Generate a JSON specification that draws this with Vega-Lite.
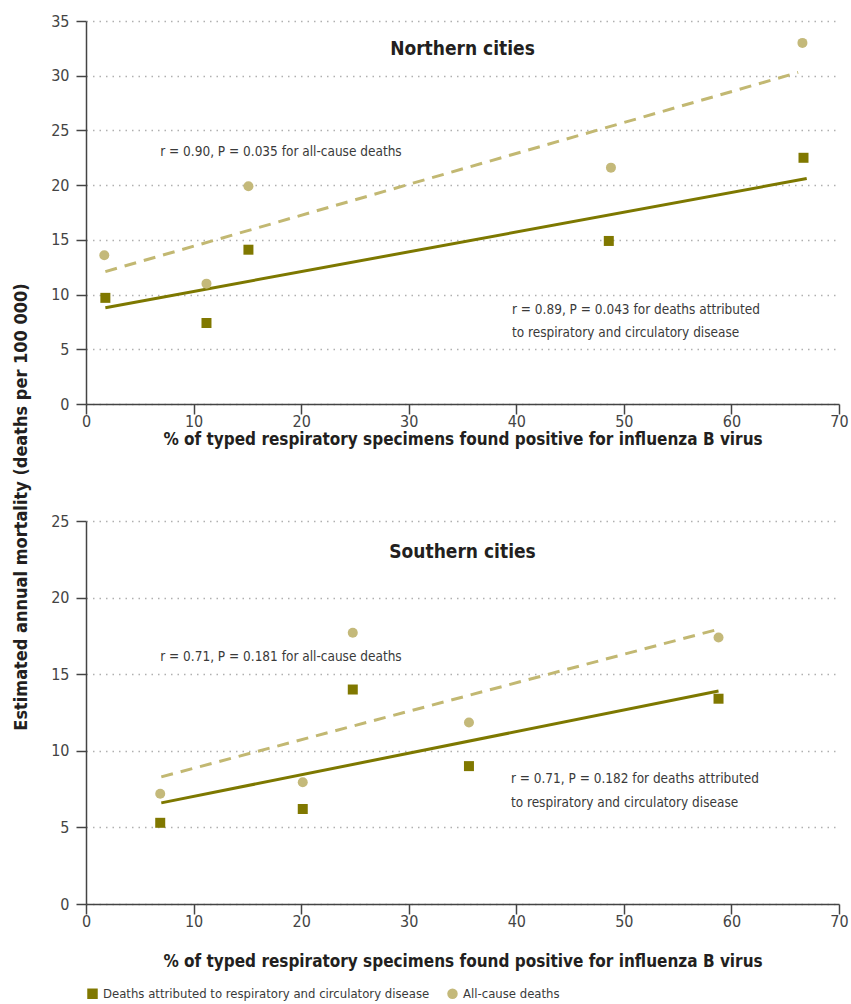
{
  "$schema": "https://vega.github.io/schema/vega-lite/v6.json",
  "padding": {"left": 12, "top": 13, "right": 10, "bottom": 5},
  "background": "white",
  "title": {
    "text": "Estimated annual mortality (deaths per 100 000)",
    "orient": "left",
    "anchor": "middle",
    "fontSize": 18,
    "fontWeight": "bold",
    "font": "DejaVu Sans Condensed",
    "color": "#231f20",
    "offset": 20
  },
  "datasets": {
    "points": [
      {"panel": "North", "series": "Deaths attributed to respiratory and circulatory disease", "x": 1.8, "y": 9.7},
      {"panel": "North", "series": "Deaths attributed to respiratory and circulatory disease", "x": 11.2, "y": 7.4},
      {"panel": "North", "series": "Deaths attributed to respiratory and circulatory disease", "x": 15.1, "y": 14.1},
      {"panel": "North", "series": "Deaths attributed to respiratory and circulatory disease", "x": 48.6, "y": 14.9},
      {"panel": "North", "series": "Deaths attributed to respiratory and circulatory disease", "x": 66.7, "y": 22.5},
      {"panel": "North", "series": "All-cause deaths", "x": 1.7, "y": 13.6},
      {"panel": "North", "series": "All-cause deaths", "x": 11.2, "y": 11.0},
      {"panel": "North", "series": "All-cause deaths", "x": 15.1, "y": 19.9},
      {"panel": "North", "series": "All-cause deaths", "x": 48.8, "y": 21.6},
      {"panel": "North", "series": "All-cause deaths", "x": 66.6, "y": 33.0},
      {"panel": "South", "series": "Deaths attributed to respiratory and circulatory disease", "x": 6.9, "y": 5.3},
      {"panel": "South", "series": "Deaths attributed to respiratory and circulatory disease", "x": 20.15, "y": 6.2},
      {"panel": "South", "series": "Deaths attributed to respiratory and circulatory disease", "x": 24.8, "y": 14.0},
      {"panel": "South", "series": "Deaths attributed to respiratory and circulatory disease", "x": 35.6, "y": 9.0},
      {"panel": "South", "series": "Deaths attributed to respiratory and circulatory disease", "x": 58.8, "y": 13.4},
      {"panel": "South", "series": "All-cause deaths", "x": 6.9, "y": 7.2},
      {"panel": "South", "series": "All-cause deaths", "x": 20.15, "y": 7.95},
      {"panel": "South", "series": "All-cause deaths", "x": 24.8, "y": 17.7},
      {"panel": "South", "series": "All-cause deaths", "x": 35.6, "y": 11.85},
      {"panel": "South", "series": "All-cause deaths", "x": 58.8, "y": 17.4}
    ],
    "fits": [
      {"panel": "North", "series": "resp", "x": 1.8, "y": 8.8},
      {"panel": "North", "series": "resp", "x": 67.0, "y": 20.6},
      {"panel": "North", "series": "all", "x": 1.8, "y": 12.1},
      {"panel": "North", "series": "all", "x": 66.2, "y": 30.3},
      {"panel": "South", "series": "resp", "x": 7.0, "y": 6.6},
      {"panel": "South", "series": "resp", "x": 58.8, "y": 13.9},
      {"panel": "South", "series": "all", "x": 7.0, "y": 8.3},
      {"panel": "South", "series": "all", "x": 58.6, "y": 17.9}
    ],
    "notes": [
      {"panel": "North", "x": 35, "y": 32.4, "text": "Northern cities", "kind": "title"},
      {"panel": "North", "x": 6.9, "y": 23.0, "text": "r = 0.90, P = 0.035 for all-cause deaths", "kind": "note"},
      {"panel": "North", "x": 39.6, "y": 8.6, "text": "r = 0.89, P = 0.043 for deaths attributed", "kind": "note"},
      {"panel": "North", "x": 39.6, "y": 6.5, "text": "to respiratory and circulatory disease", "kind": "note"},
      {"panel": "South", "x": 35, "y": 23.0, "text": "Southern cities", "kind": "title"},
      {"panel": "South", "x": 6.9, "y": 16.1, "text": "r = 0.71, P = 0.181 for all-cause deaths", "kind": "note"},
      {"panel": "South", "x": 39.5, "y": 8.15, "text": "r = 0.71, P = 0.182 for deaths attributed", "kind": "note"},
      {"panel": "South", "x": 39.5, "y": 6.6, "text": "to respiratory and circulatory disease", "kind": "note"}
    ]
  },
  "vconcat": [
    {
      "width": 753,
      "height": 383,
      "layer": [
        {
          "data": {"name": "fits"},
          "transform": [{"filter": "datum.panel == 'North' && datum.series == 'resp'"}],
          "mark": {"type": "line", "strokeWidth": 3, "color": "#7d7800"},
          "encoding": {
            "x": {
              "field": "x", "type": "quantitative", "scale": {"domain": [0, 70], "nice": false},
              "title": "% of typed respiratory specimens found positive for influenza B virus",
              "axis": {"values": [0, 10, 20, 30, 40, 50, 60, 70], "titlePadding": 2}
            },
            "y": {
              "field": "y", "type": "quantitative", "scale": {"domain": [0, 35], "nice": false}, "title": null,
              "axis": {"values": [0, 5, 10, 15, 20, 25, 30, 35]}
            }
          }
        },
        {
          "data": {"name": "fits"},
          "transform": [{"filter": "datum.panel == 'North' && datum.series == 'all'"}],
          "mark": {"type": "line", "strokeWidth": 3, "color": "#c2b872", "strokeDash": [12, 8]},
          "encoding": {
            "x": {"field": "x", "type": "quantitative"},
            "y": {"field": "y", "type": "quantitative"}
          }
        },
        {
          "data": {"name": "points"},
          "transform": [{"filter": "datum.panel == 'North'"}],
          "mark": {"type": "point", "filled": true, "opacity": 1, "size": 100},
          "encoding": {
            "x": {"field": "x", "type": "quantitative"},
            "y": {"field": "y", "type": "quantitative"},
            "color": {
              "field": "series", "type": "nominal",
              "scale": {"domain": ["Deaths attributed to respiratory and circulatory disease", "All-cause deaths"], "range": ["#807800", "#c4b97a"]}
            },
            "shape": {
              "field": "series", "type": "nominal",
              "scale": {"domain": ["Deaths attributed to respiratory and circulatory disease", "All-cause deaths"], "range": ["square", "circle"]}
            }
          }
        },
        {
          "data": {"name": "notes"},
          "transform": [{"filter": "datum.panel == 'North' && datum.kind == 'note'"}],
          "mark": {"type": "text", "align": "left", "baseline": "middle", "fontSize": 13.5, "font": "DejaVu Sans Condensed", "color": "#3a3a3a"},
          "encoding": {
            "x": {"field": "x", "type": "quantitative"},
            "y": {"field": "y", "type": "quantitative"},
            "text": {"field": "text"}
          }
        },
        {
          "data": {"name": "notes"},
          "transform": [{"filter": "datum.panel == 'North' && datum.kind == 'title'"}],
          "mark": {"type": "text", "align": "center", "baseline": "middle", "fontSize": 19, "fontWeight": "bold", "font": "DejaVu Sans Condensed", "color": "#231f20"},
          "encoding": {
            "x": {"field": "x", "type": "quantitative"},
            "y": {"field": "y", "type": "quantitative"},
            "text": {"field": "text"}
          }
        }
      ]
    },
    {
      "width": 753,
      "height": 383,
      "layer": [
        {
          "data": {"name": "fits"},
          "transform": [{"filter": "datum.panel == 'South' && datum.series == 'resp'"}],
          "mark": {"type": "line", "strokeWidth": 3, "color": "#7d7800"},
          "encoding": {
            "x": {
              "field": "x", "type": "quantitative", "scale": {"domain": [0, 70], "nice": false},
              "title": "% of typed respiratory specimens found positive for influenza B virus",
              "axis": {"values": [0, 10, 20, 30, 40, 50, 60, 70], "titlePadding": 24}
            },
            "y": {
              "field": "y", "type": "quantitative", "scale": {"domain": [0, 25], "nice": false}, "title": null,
              "axis": {"values": [0, 5, 10, 15, 20, 25]}
            }
          }
        },
        {
          "data": {"name": "fits"},
          "transform": [{"filter": "datum.panel == 'South' && datum.series == 'all'"}],
          "mark": {"type": "line", "strokeWidth": 3, "color": "#c2b872", "strokeDash": [12, 8]},
          "encoding": {
            "x": {"field": "x", "type": "quantitative"},
            "y": {"field": "y", "type": "quantitative"}
          }
        },
        {
          "data": {"name": "points"},
          "transform": [{"filter": "datum.panel == 'South'"}],
          "mark": {"type": "point", "filled": true, "opacity": 1, "size": 100},
          "encoding": {
            "x": {"field": "x", "type": "quantitative"},
            "y": {"field": "y", "type": "quantitative"},
            "color": {
              "field": "series", "type": "nominal",
              "scale": {"domain": ["Deaths attributed to respiratory and circulatory disease", "All-cause deaths"], "range": ["#807800", "#c4b97a"]}
            },
            "shape": {
              "field": "series", "type": "nominal",
              "scale": {"domain": ["Deaths attributed to respiratory and circulatory disease", "All-cause deaths"], "range": ["square", "circle"]}
            }
          }
        },
        {
          "data": {"name": "notes"},
          "transform": [{"filter": "datum.panel == 'South' && datum.kind == 'note'"}],
          "mark": {"type": "text", "align": "left", "baseline": "middle", "fontSize": 13.5, "font": "DejaVu Sans Condensed", "color": "#3a3a3a"},
          "encoding": {
            "x": {"field": "x", "type": "quantitative"},
            "y": {"field": "y", "type": "quantitative"},
            "text": {"field": "text"}
          }
        },
        {
          "data": {"name": "notes"},
          "transform": [{"filter": "datum.panel == 'South' && datum.kind == 'title'"}],
          "mark": {"type": "text", "align": "center", "baseline": "middle", "fontSize": 19, "fontWeight": "bold", "font": "DejaVu Sans Condensed", "color": "#231f20"},
          "encoding": {
            "x": {"field": "x", "type": "quantitative"},
            "y": {"field": "y", "type": "quantitative"},
            "text": {"field": "text"}
          }
        }
      ]
    }
  ],
  "spacing": 66,
  "resolve": {"scale": {"x": "independent", "y": "independent", "color": "shared", "shape": "shared"}, "legend": {"color": "shared", "shape": "shared"}},
  "config": {
    "font": "DejaVu Sans Condensed",
    "view": {"stroke": null},
    "axisX": {
      "titleFontSize": 17,
      "titleFontWeight": "bold",
      "titleColor": "#231f20",
      "labelFontSize": 16,
      "labelColor": "#444444",
      "labelPadding": -1,
      "tickSize": 10,
      "tickColor": "#444444",
      "domainColor": "#444444",
      "domainWidth": 1.5,
      "tickWidth": 1.5,
      "grid": false,
      "labelFlush": false
    },
    "axisY": {
      "labelFontSize": 16,
      "labelColor": "#444444",
      "labelPadding": 7,
      "tickSize": 10,
      "tickColor": "#444444",
      "tickWidth": 1.5,
      "domainColor": "#444444",
      "domainWidth": 1.5,
      "grid": true,
      "gridColor": "#b0b0b0",
      "gridDash": [1.5, 5],
      "gridWidth": 1.5
    },
    "legend": {
      "orient": "bottom",
      "direction": "horizontal",
      "title": null,
      "offset": 18,
      "labelFontSize": 13,
      "labelColor": "#3a3a3a",
      "symbolSize": 110,
      "symbolStrokeWidth": 0,
      "columnPadding": 16,
      "labelLimit": 500
    }
  }
}
